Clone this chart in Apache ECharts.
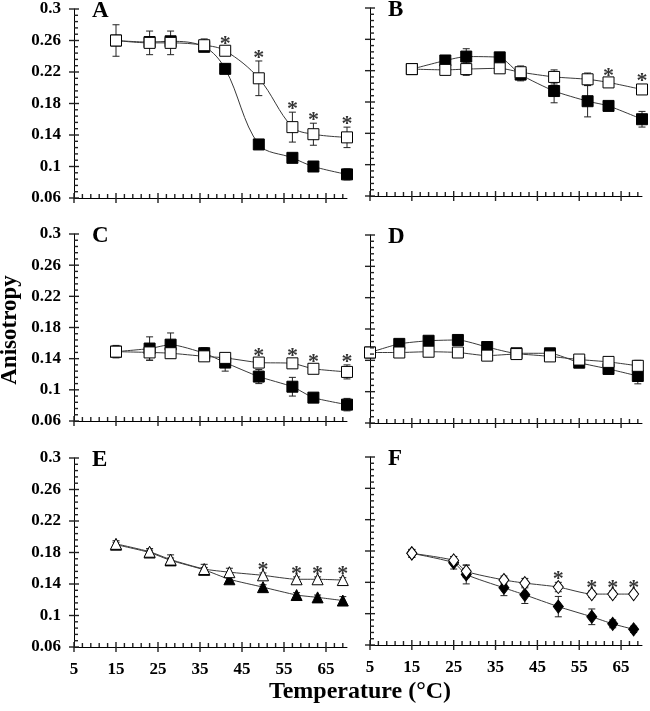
<!DOCTYPE html>
<html><head><meta charset="utf-8">
<script src="https://cdn.jsdelivr.net/npm/echarts@6/dist/echarts.min.js"></script>
<style>html,body{margin:0;padding:0;background:#fff}#c{width:650px;height:711px}</style>
</head><body><div id="c"></div>
<script>
// ---------- tick labels ----------
const xTickLabels = [5, 15, 25, 35, 45, 55, 65];
const yTickLabels = [0.06, 0.1, 0.14, 0.18, 0.22, 0.26, 0.3];
const panelLetters = ['A', 'B', 'C', 'D', 'E', 'F'];
const xTitle = 'Temperature (°C)';
const yTitle = 'Anisotropy';

// ---------- Panel A ----------
const tempA = [15, 23, 28, 36, 41, 49, 57, 62, 70];
const openA = [0.260, 0.257, 0.257, 0.254, 0.247, 0.212, 0.150, 0.141, 0.137];
const openErrA = [0.020, 0.015, 0.015, 0.008, 0.004, 0.022, 0.019, 0.014, 0.013];
const filledA = [0.260, 0.258, 0.259, 0.252, 0.224, 0.128, 0.111, 0.100, 0.090];
const filledErrA = [0, 0.006, 0.006, 0.004, 0.006, 0.003, 0.004, 0.003, 0.007];
const sigA = [0, 0, 0, 0, 1, 1, 1, 1, 1];

// ---------- Panel B ----------
const tempB = [15, 23, 28, 36, 41, 49, 57, 62, 70];
const openB = [0.222, 0.221, 0.222, 0.223, 0.218, 0.212, 0.209, 0.205, 0.196];
const openErrB = [0.006, 0.004, 0.008, 0.004, 0.008, 0.009, 0.008, 0.004, 0.006];
const filledB = [0.222, 0.233, 0.238, 0.237, 0.215, 0.194, 0.181, 0.175, 0.158];
const filledErrB = [0, 0.004, 0.010, 0.004, 0.008, 0.015, 0.020, 0.003, 0.010];
const sigB = [0, 0, 0, 0, 0, 0, 0, 1, 1];

// ---------- Panel C ----------
const tempC = [15, 23, 28, 36, 41, 49, 57, 62, 70];
const openC = [0.149, 0.148, 0.147, 0.143, 0.141, 0.135, 0.134, 0.127, 0.123];
const openErrC = [0.008, 0.010, 0.006, 0.005, 0.004, 0.004, 0.005, 0.004, 0.009];
const filledC = [0.149, 0.153, 0.158, 0.147, 0.135, 0.117, 0.104, 0.090, 0.081];
const filledErrC = [0, 0.015, 0.015, 0.007, 0.011, 0.009, 0.012, 0.003, 0.008];
const sigC = [0, 0, 0, 0, 0, 1, 1, 1, 1];

// ---------- Panel D ----------
const tempD = [5, 12, 19, 26, 33, 40, 48, 55, 62, 69];
const openD = [0.150, 0.150, 0.151, 0.150, 0.146, 0.148, 0.145, 0.141, 0.138, 0.133];
const openErrD = [0.004, 0.003, 0.003, 0.003, 0.004, 0.004, 0.006, 0.004, 0.004, 0.007];
const filledD = [0.150, 0.161, 0.165, 0.166, 0.157, 0.149, 0.149, 0.137, 0.129, 0.120];
const filledErrD = [0, 0.003, 0.003, 0.003, 0.004, 0.003, 0.004, 0.003, 0.006, 0.010];
const sigD = [0, 0, 0, 0, 0, 0, 0, 0, 0, 0];

// ---------- Panel E ----------
const tempE = [15, 23, 28, 36, 42, 50, 58, 63, 69];
const openE = [0.191, 0.181, 0.171, 0.159, 0.155, 0.151, 0.146, 0.146, 0.145];
const openErrE = [0.004, 0.004, 0.006, 0.006, 0.005, 0.003, 0.003, 0.003, 0.003];
const filledE = [0.190, 0.180, 0.170, 0.158, 0.146, 0.136, 0.126, 0.123, 0.119];
const filledErrE = [0.003, 0.003, 0.003, 0.003, 0.003, 0.003, 0.003, 0.003, 0.005];
const sigE = [0, 0, 0, 0, 0, 1, 1, 1, 1];

// ---------- Panel F ----------
const tempF = [15, 25, 28, 37, 42, 50, 58, 63, 68];
const openF = [0.177, 0.168, 0.154, 0.143, 0.139, 0.134, 0.125, 0.125, 0.125];
const openErrF = [0.005, 0.005, 0.008, 0.005, 0.006, 0.006, 0.004, 0.004, 0.003];
const filledF = [0.177, 0.165, 0.150, 0.133, 0.124, 0.109, 0.096, 0.087, 0.080];
const filledErrF = [0.005, 0.008, 0.012, 0.010, 0.011, 0.013, 0.010, 0.005, 0.004];
const sigF = [0, 0, 0, 0, 0, 1, 1, 1, 1];

const panels = [
  {t: tempA, o: openA, oe: openErrA, f: filledA, fe: filledErrA, s: sigA, sym: 'rect'},
  {t: tempB, o: openB, oe: openErrB, f: filledB, fe: filledErrB, s: sigB, sym: 'rect'},
  {t: tempC, o: openC, oe: openErrC, f: filledC, fe: filledErrC, s: sigC, sym: 'rect'},
  {t: tempD, o: openD, oe: openErrD, f: filledD, fe: filledErrD, s: sigD, sym: 'rect'},
  {t: tempE, o: openE, oe: openErrE, f: filledE, fe: filledErrE, s: sigE, sym: 'triangle'},
  {t: tempF, o: openF, oe: openErrF, f: filledF, fe: filledErrF, s: sigF, sym: 'diamond'}
];

// layout
const grids = [
  {left: 74, top: 9, width: 273, height: 189},
  {left: 370, top: 8, width: 272, height: 188},
  {left: 74, top: 234, width: 273, height: 187},
  {left: 370, top: 235, width: 272, height: 188},
  {left: 74, top: 458, width: 273, height: 189},
  {left: 370, top: 457, width: 272, height: 188}
];

const XMIN = 5, XMAX = 70, YMIN = 0.06, YMAX = 0.3;
const xTickVals = [], xTickMajor = [];
for (let v = 5; v < XMAX; v += 2) { xTickVals.push(v); xTickMajor.push((v - 5) % 10 === 0 ? 1 : 0); }
const yTickVals = [], yTickMajor = [];
for (let k = 0; k <= 30; k++) { yTickVals.push(Math.round((YMIN + k * 0.008) * 1000) / 1000); yTickMajor.push(k % 5 === 0 ? 1 : 0); }

const serifB = 'Liberation Serif';
const axColor = '#000';

const xAxes = [], yAxes = [], series = [];
grids.forEach((g, i) => {
  const showX = i >= 4, showY = i % 2 === 0;
  xAxes.push({gridIndex: i, type: 'value', min: XMIN, max: XMAX, position: 'bottom', splitLine: {show: false},
    axisLine: {show: true, onZero: false, lineStyle: {color: axColor, width: 1}},
    axisTick: {show: false},
    axisLabel: {show: showX, customValues: xTickLabels, margin: 14, fontFamily: serifB, fontWeight: 'bold', fontSize: 17, color: '#000'}
  });
  yAxes.push({gridIndex: i, type: 'value', min: YMIN, max: YMAX, position: 'left', splitLine: {show: false},
    axisLine: {show: true, onZero: false, lineStyle: {color: axColor, width: 1}},
    axisTick: {show: false},
    axisLabel: {show: showY, customValues: yTickLabels, margin: 13, fontFamily: serifB, fontWeight: 'bold', fontSize: 17, color: '#000',
      formatter: v => String(Math.round(v * 100) / 100)}
  });

  const p = panels[i];
  const xi = i, yi = i;

  // tick marks (major ticks cross the axis, minor ticks point inward)
  const tickData = [];
  xTickVals.forEach((v, k) => tickData.push([v, YMIN, YMIN, xTickMajor[k], 0]));
  yTickVals.forEach((v, k) => tickData.push([XMIN, v, v, yTickMajor[k], 1]));
  series.push({
    type: 'custom', xAxisIndex: xi, yAxisIndex: yi, silent: true, z: 6,
    encode: {x: 0, y: [1, 2]},
    data: tickData,
    renderItem: (params, api) => {
      const a = api.coord([api.value(0), api.value(1)]);
      const major = api.value(3) === 1;
      const isY = api.value(4) === 1;
      let sh;
      if (!isY) {
        sh = {x1: a[0], y1: a[1] - (major ? 5 : 4), x2: a[0], y2: a[1] + (major ? 5 : 0)};
      } else {
        sh = {x1: a[0] - (major ? 5 : 0), y1: a[1], x2: a[0] + (major ? 5 : 4), y2: a[1]};
      }
      return {type: 'group', children: [{type: 'line', shape: sh, style: {stroke: '#222', lineWidth: 1.4}}]};
    }
  });

  const errData = [];
  p.t.forEach((x, j) => {
    if (p.fe[j] > 0) errData.push([x, p.f[j] - p.fe[j], p.f[j] + p.fe[j]]);
    if (p.oe[j] > 0) errData.push([x, p.o[j] - p.oe[j], p.o[j] + p.oe[j]]);
  });
  series.push({
    type: 'custom', xAxisIndex: xi, yAxisIndex: yi, silent: true, z: 1,
    encode: {x: 0, y: [1, 2]},
    data: errData,
    renderItem: (params, api) => {
      const x = api.value(0), lo = api.value(1), hi = api.value(2);
      const a = api.coord([x, hi]), b = api.coord([x, lo]);
      const w = 3.5;
      return {type: 'group', children: [
        {type: 'line', shape: {x1: a[0], y1: a[1], x2: b[0], y2: b[1]}, style: {stroke: '#222', lineWidth: 1}},
        {type: 'line', shape: {x1: a[0] - w, y1: a[1], x2: a[0] + w, y2: a[1]}, style: {stroke: '#222', lineWidth: 1}},
        {type: 'line', shape: {x1: b[0] - w, y1: b[1], x2: b[0] + w, y2: b[1]}, style: {stroke: '#222', lineWidth: 1}}
      ]};
    }
  });
  const symSize = p.sym === 'diamond' ? [10, 13] : 11;
  const common = {
    type: 'line', xAxisIndex: xi, yAxisIndex: yi, symbol: p.sym, symbolSize: symSize,
    showSymbol: true, smooth: i === 0 ? 0.35 : 0.2, z: 3,
    lineStyle: {color: '#3a3a3a', width: 1}
  };
  series.push(Object.assign({}, common, {
    data: p.t.map((x, j) => [x, p.f[j]]),
    itemStyle: {color: '#000', borderColor: '#000', borderWidth: 1}
  }));
  series.push(Object.assign({}, common, {
    z: 4,
    data: p.t.map((x, j) => [x, p.o[j]]),
    itemStyle: {color: '#fff', borderColor: '#000', borderWidth: 1}
  }));
  const stars = [];
  p.t.forEach((x, j) => { if (p.s[j]) stars.push([x, p.o[j] + p.oe[j]]); });
  series.push({
    type: 'scatter', xAxisIndex: xi, yAxisIndex: yi, z: 5, silent: true,
    symbol: 'circle', symbolSize: 2, itemStyle: {color: 'rgba(0,0,0,0)'},
    data: stars,
    label: {show: true, formatter: '*', position: 'top', distance: 0, offset: [0, 9],
      fontFamily: serifB, fontWeight: 'bold', fontSize: 22, color: '#000'}
  });
});

const graphics = [];
grids.forEach((g, i) => {
  graphics.push({type: 'text', left: g.left + 18, top: g.top - 9,
    style: {text: panelLetters[i], font: 'bold 23px "Liberation Serif"', fill: '#000'}});
});
graphics.push({type: 'text', x: 360, y: 692, style: {text: xTitle, font: 'bold 24px "Liberation Serif"', fill: '#000', align: 'center', verticalAlign: 'middle'}});
graphics.push({type: 'text', x: 10, y: 330, rotation: Math.PI / 2, style: {text: yTitle, font: 'bold 23px "Liberation Serif"', fill: '#000', align: 'center', verticalAlign: 'middle'}});

const chart = echarts.init(document.getElementById('c'), null, {renderer: 'canvas'});
chart.setOption({
  animation: false,
  backgroundColor: '#fff',
  grid: grids.map(g => Object.assign({containLabel: false}, g)),
  xAxis: xAxes,
  yAxis: yAxes,
  series: series,
  graphic: graphics
});
</script></body></html>
